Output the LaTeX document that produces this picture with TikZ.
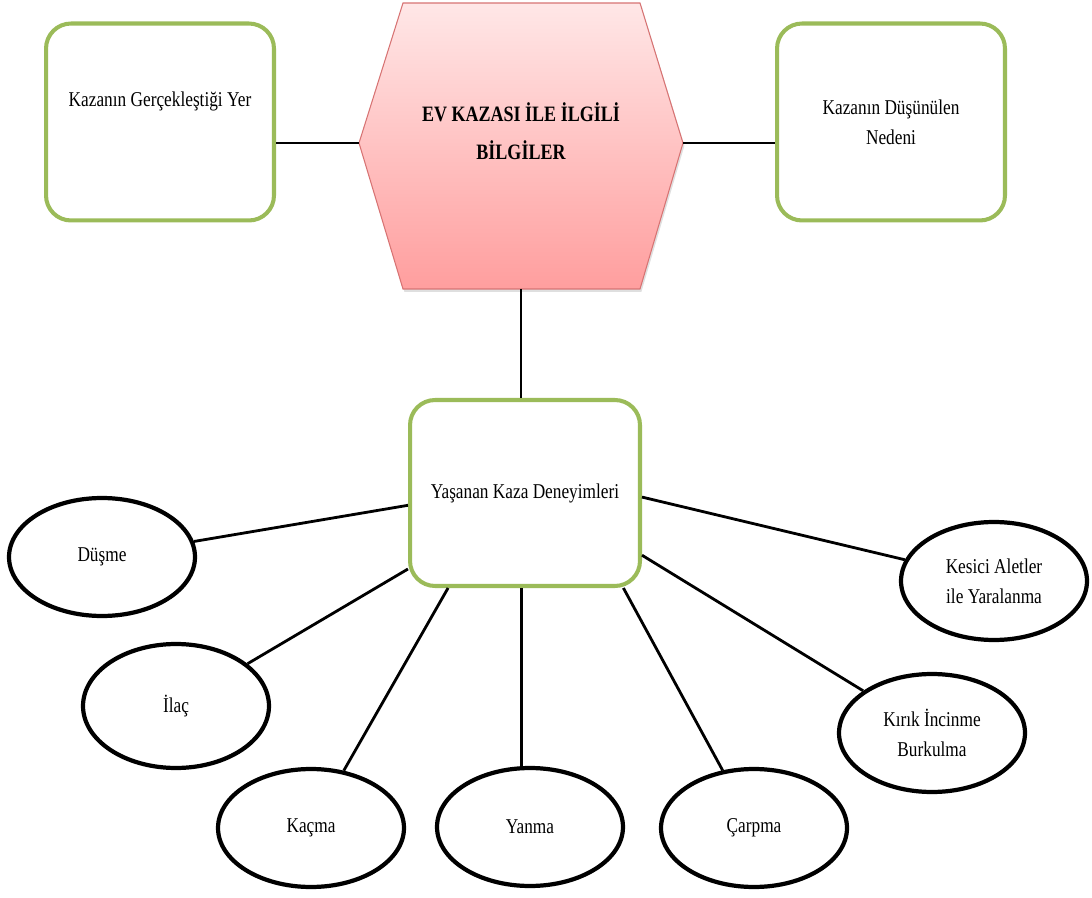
\documentclass[tikz,border=0pt]{standalone}
\usepackage{fontspec}
\setmainfont{Liberation Serif}[FakeStretch=0.82]
\usepackage{tikz}
\usetikzlibrary{positioning,shapes.geometric,shadows}

\definecolor{boxgreen}{RGB}{155,187,89}
\definecolor{hexline}{RGB}{215,115,115}
\definecolor{hextop}{RGB}{255,231,231}
\definecolor{hexbottom}{RGB}{255,158,158}

\begin{document}
\begin{tikzpicture}
    [ x = .02cm, y = -.02cm
    , font = \fontsize{12}{17}\selectfont
    , greenbox/.style =
      { draw = boxgreen, line width = 2.3pt, rounded corners = .5cm
      , minimum width = 4.56cm, minimum height = 3.94cm
      , align = center, inner sep = 0pt }
    , oval/.style =
      { draw, ellipse, line width = 2.4pt
      , minimum width = 3.72cm, minimum height = 2.36cm
      , align = center, inner sep = 0pt }
    , edge/.style =
      { line width = 1.6pt }
    , hexagon/.style =
      { draw = hexline, line width = .6pt
      , top color = hextop, bottom color = hexbottom
      , drop shadow = {shadow xshift = .8pt, shadow yshift = -1.6pt, opacity = .25} }
    , title/.style =
      { font = \fontsize{12.5}{21.5}\selectfont\bfseries, align = center }
    ]
    \useasboundingbox (0,0) rectangle (1092,898);

    % top row
    \coordinate (hexw) at (359,143);
    \coordinate (hexe) at (683,143);
    \coordinate (hexs) at (521,289);
    \path [hexagon] (hexw) -- (403,3) -- (640,3) -- (hexe) -- (640,289) -- (403,289) -- cycle;
    \node [title] (hex) at (521,131) {EV KAZASI İLE İLGİLİ\\BİLGİLER};

    \node [greenbox, text depth = 26pt] (yer) at (160,122) {Kazanın Gerçekleştiği Yer};
    \node [greenbox] (neden) at (891,122) {Kazanın Düşünülen\\Nedeni};

    % middle
    \node [greenbox, minimum width = 4.6cm, minimum height = 3.72cm] (deneyim) at (525,493)
      {Yaşanan Kaza Deneyimleri};

    % ovals
    \node [oval] (dusme) at (102,557) {Düşme};
    \node [oval, minimum height = 2.48cm] (ilac) at (176,706) {İlaç};
    \node [oval] (kacma) at (311,828) {Kaçma};
    \node [oval] (yanma) at (530,827) {Yanma};
    \node [oval] (carpma) at (754,828) {Çarpma};
    \node [oval] (kirik) at (932,733) {Kırık İncinme\\Burkulma};
    \node [oval] (kesici) at (994,581) {Kesici Aletler\\ile Yaralanma};

    \draw [edge] (yer.east |- hexw) -- (hexw);
    \draw [edge] (hexe) -- (hexe -| neden.west);
    \draw [edge] (hexs) -- (hexs |- deneyim.north);

    \draw [edge] (deneyim.186) -- (dusme);
    \draw [edge] (deneyim.213) -- (ilac);
    \draw [edge] (deneyim.231) -- (kacma);
    \draw [edge] (deneyim.268) -- (deneyim.268 |- yanma.north);
    \draw [edge] (deneyim.316) -- (carpma);
    \draw [edge] (deneyim.332) -- (kirik);
    \draw [edge] (deneyim.358) -- (kesici);
  \end{tikzpicture}
\end{document}
